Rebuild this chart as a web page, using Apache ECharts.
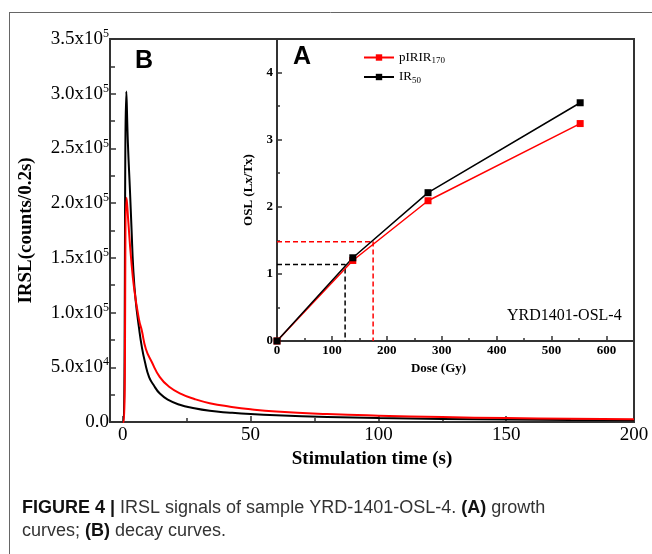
<!DOCTYPE html>
<html>
<head>
<meta charset="utf-8">
<script type="text/javascript" src="https://cdn.jsdelivr.net/npm/echarts@6/dist/echarts.min.js"></script>
</head>
<body style="margin:0;background:#fff">
<div id="main" style="width:652px;height:554px"></div>
<script type="text/javascript">
  // (B) decay curves, time in s, counts/0.2s
  var timeIR50 = [0, 0.3, 1.4, 2.0, 2.8, 3.4, 4.1, 5.0, 6.4, 7.5, 8.65, 10.3, 12, 14.5, 18, 22.3, 27, 34, 42, 50, 60, 80, 100, 125, 150, 175, 200];
  var countsIR50 = [0, 0, 302000, 255000, 212000, 178000, 140000, 112000, 85000, 68000, 55000, 41000, 34000, 26000, 20000, 15800, 13000, 10200, 8500, 7200, 6100, 4600, 3600, 2800, 2200, 1800, 1500];
  var timePIRIR = [0, 0.4, 1.5, 2.2, 3.2, 4.5, 6.4, 7.4, 9, 11.3, 14.5, 18, 23, 28, 34, 42, 50, 60, 80, 100, 125, 150, 175, 200];
  var countsPIRIR = [0, 0, 205000, 182000, 151000, 121000, 93000, 84000, 67000, 55000, 41000, 32500, 25500, 21000, 17200, 14000, 11600, 9600, 7300, 5800, 4500, 3600, 2900, 2400];

  // (A) growth curves
  var doses = [0, 138, 275, 552];
  var lxPIRIR = [0, 1.20, 2.09, 3.24];
  var lxIR50 = [0, 1.24, 2.21, 3.55];
  // natural signal -> equivalent dose (dashed guides)
  var dePIRIR = [175, 1.48];
  var deIR50 = [124, 1.14];

  var timeTicks = [0, 50, 100, 150, 200];
  var timeMinorTicks = [25, 75, 125, 175];

  function pairs(xs, ys) {
    var out = [];
    for (var i = 0; i < xs.length; i++) out.push([xs[i], ys[i]]);
    return out;
  }

  var serif = 'Liberation Serif';
  var chart = echarts.init(document.getElementById('main'));

  var option = {
    animation: false,
    grid: [
      {left: 110, top: 39, width: 524, height: 383, show: true, borderColor: '#333', borderWidth: 2},
      {left: 277, top: 39, width: 357, height: 302, show: true, borderColor: '#333', borderWidth: 2}
    ],
    legend: {
      data: ['pIRIR170', 'IR50'],
      orient: 'vertical',
      left: 358, top: 46,
      itemWidth: 30, itemHeight: 8, itemGap: 5,
      formatter: function (name) {
        return name == 'IR50' ? '{a|IR}{b|50}' : '{a|pIRIR}{b|170}';
      },
      textStyle: {
        rich: {
          a: {fontFamily: serif, fontSize: 13, color: '#000'},
          b: {fontFamily: serif, fontSize: 9, color: '#000', padding: [7, 0, 0, 0]}
        }
      }
    },
    xAxis: [
      {
        gridIndex: 0, type: 'value', min: -5, max: 200, position: 'bottom',
        name: 'Stimulation time (s)', nameLocation: 'middle', nameGap: 23,
        nameTextStyle: {fontFamily: serif, fontSize: 19, fontWeight: 'bold', color: '#000'},
        axisLine: {onZero: false, lineStyle: {color: '#333', width: 2}},
        axisTick: {inside: true, length: 6, customValues: timeTicks, lineStyle: {color: '#333', width: 1.5}},
        axisLabel: {customValues: timeTicks, fontFamily: serif, fontSize: 19, color: '#000', margin: 4},
        splitLine: {show: false}
      },
      {
        gridIndex: 0, type: 'value', min: -5, max: 200, position: 'bottom', offset: 0,
        axisLine: {show: false, onZero: false},
        axisTick: {inside: true, length: 4, customValues: timeMinorTicks, lineStyle: {color: '#333', width: 1.5}},
        axisLabel: {show: false},
        splitLine: {show: false}
      },
      {
        gridIndex: 1, type: 'value', min: 0, max: 650, interval: 100,
        name: 'Dose (Gy)', nameLocation: 'middle', nameGap: 17,
        nameTextStyle: {fontFamily: serif, fontSize: 13, fontWeight: 'bold', color: '#000', padding: [0, 34, 0, 0]},
        axisLine: {onZero: false, lineStyle: {color: '#333', width: 2}},
        axisTick: {inside: true, length: 5, lineStyle: {color: '#333', width: 1.5}},
        minorTick: {show: true, splitNumber: 2, length: 3, lineStyle: {color: '#333', width: 1.5}},
        axisLabel: {fontFamily: serif, fontSize: 13, fontWeight: 'bold', color: '#000', margin: 3, showMaxLabel: false},
        splitLine: {show: false}
      }
    ],
    yAxis: [
      {
        gridIndex: 0, type: 'value', min: 0, max: 350000, interval: 50000,
        name: 'IRSL(counts/0.2s)', nameLocation: 'middle', nameGap: 74,
        nameTextStyle: {fontFamily: serif, fontSize: 19, fontWeight: 'bold', color: '#000'},
        axisLine: {onZero: false, lineStyle: {color: '#333', width: 2}},
        axisTick: {inside: true, length: 6, lineStyle: {color: '#333', width: 1.5}},
        minorTick: {show: true, splitNumber: 2, length: 5, lineStyle: {color: '#333', width: 1.5}},
        axisLabel: {
          margin: 1,
          formatter: function (v) {
            if (v === 0) return '{n|0.0}';
            var e = Math.floor(Math.log10(v) + 1e-9);
            return '{n|' + (v / Math.pow(10, e)).toFixed(1) + 'x10}{s|' + e + '}';
          },
          rich: {
            n: {fontFamily: serif, fontSize: 19, color: '#000'},
            s: {fontFamily: serif, fontSize: 12, color: '#000', padding: [0, 0, 10, 0]}
          }
        },
        splitLine: {show: false}
      },
      {
        gridIndex: 1, type: 'value', min: 0, max: 4.5, interval: 1,
        name: 'OSL (Lx/Tx)', nameLocation: 'middle', nameGap: 16,
        nameTextStyle: {fontFamily: serif, fontSize: 13, fontWeight: 'bold', color: '#000'},
        axisLine: {onZero: false, lineStyle: {color: '#333', width: 2}},
        axisTick: {inside: true, length: 5, lineStyle: {color: '#333', width: 1.5}},
        minorTick: {show: true, splitNumber: 2, length: 3, lineStyle: {color: '#333', width: 1.5}},
        axisLabel: {fontFamily: serif, fontSize: 13, fontWeight: 'bold', color: '#000', margin: 4, showMaxLabel: false},
        splitLine: {show: false}
      }
    ],
    series: [
      {
        name: 'IR50 decay', type: 'line', xAxisIndex: 0, yAxisIndex: 0,
        data: pairs(timeIR50, countsIR50), showSymbol: false, smooth: 0.5,
        lineStyle: {color: '#000', width: 2}
      },
      {
        name: 'pIRIR170 decay', type: 'line', xAxisIndex: 0, yAxisIndex: 0,
        data: pairs(timePIRIR, countsPIRIR), showSymbol: false, smooth: 0.5,
        lineStyle: {color: '#f00', width: 2}
      },
      {
        name: 'IR50 De', type: 'line', xAxisIndex: 2, yAxisIndex: 1, showSymbol: false,
        data: [[0, deIR50[1]], [deIR50[0], deIR50[1]], [deIR50[0], 0]],
        lineStyle: {color: '#000', width: 1.5, type: [5, 3]}
      },
      {
        name: 'pIRIR170 De', type: 'line', xAxisIndex: 2, yAxisIndex: 1, showSymbol: false,
        data: [[0, dePIRIR[1]], [dePIRIR[0], dePIRIR[1]], [dePIRIR[0], 0]],
        lineStyle: {color: '#f00', width: 1.5, type: [5, 3]}
      },
      {
        name: 'pIRIR170', type: 'line', xAxisIndex: 2, yAxisIndex: 1,
        data: pairs(doses, lxPIRIR), symbol: 'rect', symbolSize: 7,
        itemStyle: {color: '#f00'}, lineStyle: {color: '#f00', width: 1.5}
      },
      {
        name: 'IR50', type: 'line', xAxisIndex: 2, yAxisIndex: 1,
        data: pairs(doses, lxIR50), symbol: 'rect', symbolSize: 7,
        itemStyle: {color: '#000'}, lineStyle: {color: '#000', width: 1.5}
      }
    ],
    graphic: [
      {type: 'line', z: 100, shape: {x1: 9, y1: 12.5, x2: 652, y2: 12.5}, style: {stroke: '#666', lineWidth: 1}},
      {type: 'line', z: 100, shape: {x1: 9.5, y1: 12, x2: 9.5, y2: 554}, style: {stroke: '#666', lineWidth: 1}},
      {type: 'text', z: 100, left: 135, top: 49, style: {text: 'B', fontFamily: 'Liberation Sans', fontWeight: 'bold', fontSize: 25, fill: '#000'}},
      {type: 'text', z: 100, left: 293, top: 45, style: {text: 'A', fontFamily: 'Liberation Sans', fontWeight: 'bold', fontSize: 25, fill: '#000'}},
      {type: 'text', z: 100, left: 507, top: 308, style: {text: 'YRD1401-OSL-4', fontFamily: serif, fontSize: 16, fill: '#000'}},
      {
        type: 'text', z: 100, left: 22, top: 497,
        style: {
          text: '{b|FIGURE 4 |} IRSL signals of sample YRD-1401-OSL-4. {b|(A)} growth\ncurves; {b|(B)} decay curves.',
          fontFamily: 'Liberation Sans', fontSize: 18, fill: '#333', lineHeight: 23,
          rich: {b: {fontFamily: 'Liberation Sans', fontSize: 18, fontWeight: 'bold', fill: '#111', lineHeight: 23}}
        }
      }
    ]
  };
  chart.setOption(option);
</script>
</body>
</html>
